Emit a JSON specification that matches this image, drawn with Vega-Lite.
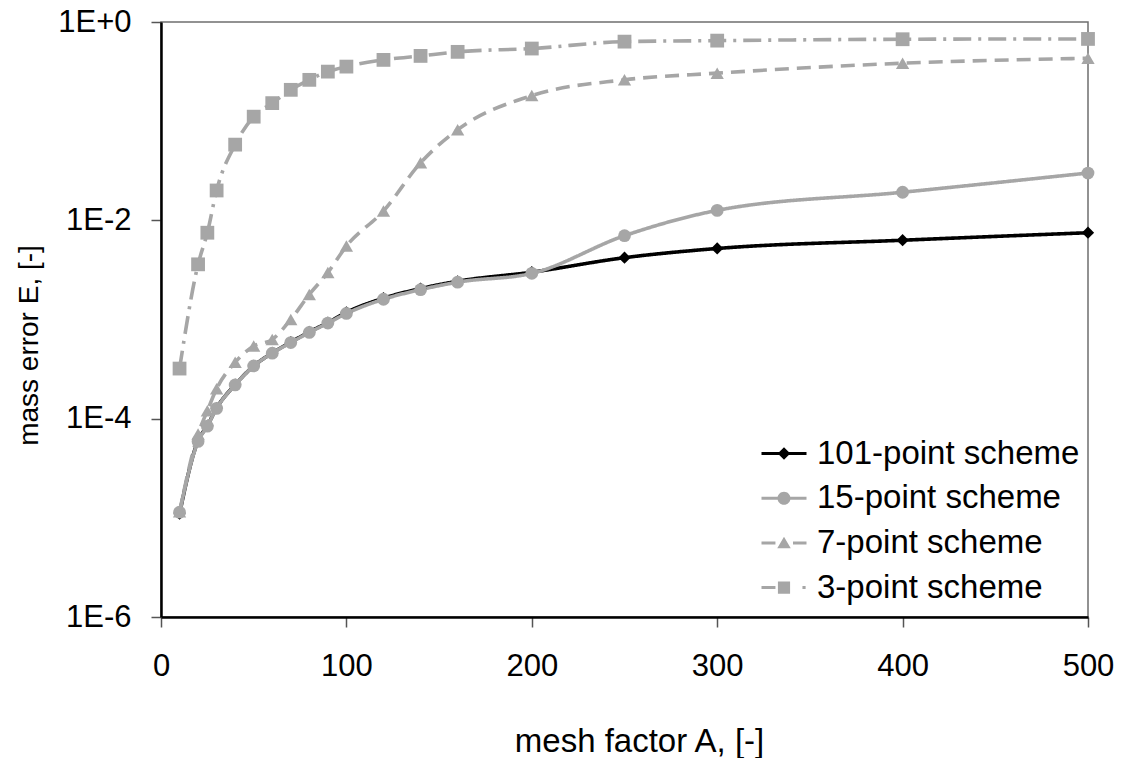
{
  "$schema": "https://vega.github.io/schema/vega-lite/v6.json",
  "width": 927,
  "height": 595,
  "autosize": {"type": "none"},
  "padding": {"left": 161, "top": 22, "right": 35, "bottom": 141},
  "background": "white",
  "data": {
    "values": [
      {"scheme": "101-point scheme", "A": 10, "E": 0.000011},
      {"scheme": "101-point scheme", "A": 20, "E": 0.00006},
      {"scheme": "101-point scheme", "A": 25, "E": 0.000085},
      {"scheme": "101-point scheme", "A": 30, "E": 0.000128},
      {"scheme": "101-point scheme", "A": 40, "E": 0.00022},
      {"scheme": "101-point scheme", "A": 50, "E": 0.00034},
      {"scheme": "101-point scheme", "A": 60, "E": 0.00046},
      {"scheme": "101-point scheme", "A": 70, "E": 0.00059},
      {"scheme": "101-point scheme", "A": 80, "E": 0.00075},
      {"scheme": "101-point scheme", "A": 90, "E": 0.00093},
      {"scheme": "101-point scheme", "A": 100, "E": 0.00118},
      {"scheme": "101-point scheme", "A": 120, "E": 0.00164},
      {"scheme": "101-point scheme", "A": 140, "E": 0.00205},
      {"scheme": "101-point scheme", "A": 160, "E": 0.00243},
      {"scheme": "101-point scheme", "A": 200, "E": 0.003},
      {"scheme": "101-point scheme", "A": 250, "E": 0.0042},
      {"scheme": "101-point scheme", "A": 300, "E": 0.0052},
      {"scheme": "101-point scheme", "A": 400, "E": 0.0063},
      {"scheme": "101-point scheme", "A": 500, "E": 0.0075},
      {"scheme": "15-point scheme", "A": 10, "E": 0.0000114},
      {"scheme": "15-point scheme", "A": 20, "E": 0.000059},
      {"scheme": "15-point scheme", "A": 25, "E": 0.000084},
      {"scheme": "15-point scheme", "A": 30, "E": 0.000127},
      {"scheme": "15-point scheme", "A": 40, "E": 0.000219},
      {"scheme": "15-point scheme", "A": 50, "E": 0.00034},
      {"scheme": "15-point scheme", "A": 60, "E": 0.000457},
      {"scheme": "15-point scheme", "A": 70, "E": 0.000585},
      {"scheme": "15-point scheme", "A": 80, "E": 0.00074},
      {"scheme": "15-point scheme", "A": 90, "E": 0.00092},
      {"scheme": "15-point scheme", "A": 100, "E": 0.00115},
      {"scheme": "15-point scheme", "A": 120, "E": 0.0016},
      {"scheme": "15-point scheme", "A": 140, "E": 0.002},
      {"scheme": "15-point scheme", "A": 160, "E": 0.00238},
      {"scheme": "15-point scheme", "A": 200, "E": 0.00292},
      {"scheme": "15-point scheme", "A": 250, "E": 0.007},
      {"scheme": "15-point scheme", "A": 300, "E": 0.0126},
      {"scheme": "15-point scheme", "A": 400, "E": 0.0192},
      {"scheme": "15-point scheme", "A": 500, "E": 0.03},
      {"scheme": "7-point scheme", "A": 10, "E": 0.0000115},
      {"scheme": "7-point scheme", "A": 20, "E": 0.00007},
      {"scheme": "7-point scheme", "A": 25, "E": 0.00012},
      {"scheme": "7-point scheme", "A": 30, "E": 0.0002},
      {"scheme": "7-point scheme", "A": 40, "E": 0.00037},
      {"scheme": "7-point scheme", "A": 50, "E": 0.00054},
      {"scheme": "7-point scheme", "A": 60, "E": 0.00063},
      {"scheme": "7-point scheme", "A": 70, "E": 0.001},
      {"scheme": "7-point scheme", "A": 80, "E": 0.00179},
      {"scheme": "7-point scheme", "A": 90, "E": 0.00297},
      {"scheme": "7-point scheme", "A": 100, "E": 0.0055},
      {"scheme": "7-point scheme", "A": 120, "E": 0.0124},
      {"scheme": "7-point scheme", "A": 140, "E": 0.038},
      {"scheme": "7-point scheme", "A": 160, "E": 0.082},
      {"scheme": "7-point scheme", "A": 200, "E": 0.181},
      {"scheme": "7-point scheme", "A": 250, "E": 0.261},
      {"scheme": "7-point scheme", "A": 300, "E": 0.305},
      {"scheme": "7-point scheme", "A": 400, "E": 0.384},
      {"scheme": "7-point scheme", "A": 500, "E": 0.431},
      {"scheme": "3-point scheme", "A": 10, "E": 0.00032},
      {"scheme": "3-point scheme", "A": 20, "E": 0.0036},
      {"scheme": "3-point scheme", "A": 25, "E": 0.0075},
      {"scheme": "3-point scheme", "A": 30, "E": 0.02},
      {"scheme": "3-point scheme", "A": 40, "E": 0.058},
      {"scheme": "3-point scheme", "A": 50, "E": 0.111},
      {"scheme": "3-point scheme", "A": 60, "E": 0.152},
      {"scheme": "3-point scheme", "A": 70, "E": 0.207},
      {"scheme": "3-point scheme", "A": 80, "E": 0.261},
      {"scheme": "3-point scheme", "A": 90, "E": 0.316},
      {"scheme": "3-point scheme", "A": 100, "E": 0.355},
      {"scheme": "3-point scheme", "A": 120, "E": 0.415},
      {"scheme": "3-point scheme", "A": 140, "E": 0.455},
      {"scheme": "3-point scheme", "A": 160, "E": 0.5},
      {"scheme": "3-point scheme", "A": 200, "E": 0.54},
      {"scheme": "3-point scheme", "A": 250, "E": 0.634},
      {"scheme": "3-point scheme", "A": 300, "E": 0.649},
      {"scheme": "3-point scheme", "A": 400, "E": 0.67},
      {"scheme": "3-point scheme", "A": 500, "E": 0.675}
    ]
  },
  "encoding": {
    "x": {
      "field": "A",
      "type": "quantitative",
      "scale": {"domain": [0, 500], "nice": false, "zero": true},
      "axis": {
        "title": "mesh factor A, [-]",
        "values": [0, 100, 200, 300, 400, 500],
        "format": "d",
        "labelPadding": 24,
        "labelFlush": false,
        "labelOverlap": false,
        "titleX": 478,
        "titleY": 134,
        "titleBaseline": "alphabetic",
        "titleFontSize": 33
      }
    },
    "y": {
      "field": "E",
      "type": "quantitative",
      "scale": {"type": "log", "domain": [0.000001, 1], "nice": false},
      "axis": {
        "title": "mass error E, [-]",
        "values": [0.000001, 0.0001, 0.01, 1],
        "labelExpr": "datum.value >= 1 ? '1E+0' : '1E' + round(log(datum.value) / LN10)",
        "labelPadding": 20,
        "labelFlush": false,
        "labelOverlap": false,
        "titleX": -124,
        "titleY": 323,
        "titleAngle": 270,
        "titleBaseline": "alphabetic",
        "titleAlign": "center",
        "titleFontSize": 28
      }
    }
  },
  "layer": [
    {
      "mark": {"type": "line", "interpolate": "monotone", "strokeWidth": 3.6},
      "encoding": {
        "color": {
          "field": "scheme",
          "type": "nominal",
          "scale": {
            "domain": ["101-point scheme", "15-point scheme", "7-point scheme", "3-point scheme"],
            "range": ["#000000", "#A6A6A6", "#A6A6A6", "#A6A6A6"]
          },
          "legend": null
        },
        "strokeDash": {
          "field": "scheme",
          "type": "nominal",
          "scale": {
            "domain": ["101-point scheme", "15-point scheme", "7-point scheme", "3-point scheme"],
            "range": [[1, 0], [1, 0], [14, 8], [18, 7, 3, 7]]
          },
          "legend": null
        }
      }
    },
    {
      "mark": {"type": "point", "filled": true, "opacity": 1, "strokeWidth": 0},
      "encoding": {
        "color": {
          "field": "scheme",
          "type": "nominal",
          "scale": {
            "domain": ["101-point scheme", "15-point scheme", "7-point scheme", "3-point scheme"],
            "range": ["#000000", "#A6A6A6", "#A6A6A6", "#A6A6A6"]
          },
          "legend": null
        },
        "shape": {
          "field": "scheme",
          "type": "nominal",
          "scale": {
            "domain": ["101-point scheme", "15-point scheme", "7-point scheme", "3-point scheme"],
            "range": ["diamond", "circle", "triangle-up", "square"]
          },
          "legend": null
        },
        "size": {
          "field": "scheme",
          "type": "ordinal",
          "scale": {
            "domain": ["101-point scheme", "15-point scheme", "7-point scheme", "3-point scheme"],
            "range": [150, 190, 220, 200]
          },
          "legend": null
        }
      }
    },
    {
      "transform": [{"filter": "datum.scheme === '101-point scheme'"}],
      "mark": {"type": "point", "filled": true, "opacity": 0, "color": "#000000"},
      "encoding": {
        "shape": {
          "field": "scheme",
          "type": "nominal",
          "scale": {
            "domain": ["101-point scheme"],
            "range": ["M-1,-0.067H1V0.067H-1ZM0,-0.28L0.28,0L0,0.28L-0.28,0Z"]
          },
          "legend": {
            "title": null,
            "orient": "none",
            "direction": "vertical",
            "legendX": 600.5,
            "legendY": 409,
            "padding": 0,
            "rowPadding": 4.7,
            "symbolSize": 2025,
            "symbolStrokeWidth": 0,
            "symbolOpacity": 1,
            "labelFontSize": 33,
            "labelFont": "Liberation Sans",
            "labelColor": "#000000",
            "labelOffset": 10.5,
            "labelLimit": 400
          }
        }
      }
    },
    {
      "transform": [{"filter": "datum.scheme !== '101-point scheme'"}],
      "mark": {"type": "point", "filled": true, "opacity": 0, "color": "#A6A6A6"},
      "encoding": {
        "shape": {
          "field": "scheme",
          "type": "nominal",
          "scale": {
            "domain": ["15-point scheme", "7-point scheme", "3-point scheme"],
            "range": [
              "M-1,-0.067H1V0.067H-1ZM0,-0.29A0.29,0.29,0,1,1,0,0.29A0.29,0.29,0,1,1,0,-0.29Z",
              "M-1,-0.067H-0.38V0.067H-1ZM0.4,-0.067H1V0.067H0.4ZM0,-0.27L0.3,0.24L-0.3,0.24Z",
              "M-1,-0.067H-0.38V0.067H-1ZM-0.27,-0.27H0.27V0.27H-0.27ZM0.82,-0.067H0.96V0.067H0.82Z"
            ]
          },
          "legend": {
            "title": null,
            "orient": "none",
            "direction": "vertical",
            "legendX": 600.5,
            "legendY": 453.7,
            "padding": 0,
            "rowPadding": 4.7,
            "symbolSize": 2025,
            "symbolStrokeWidth": 0,
            "symbolOpacity": 1,
            "labelFontSize": 33,
            "labelFont": "Liberation Sans",
            "labelColor": "#000000",
            "labelOffset": 10.5,
            "labelLimit": 400
          }
        }
      }
    }
  ],
  "resolve": {"scale": {"shape": "independent"}},
  "config": {
    "font": "Liberation Sans",
    "view": {"stroke": "#6f6f6f", "strokeWidth": 1.5},
    "axis": {
      "grid": false,
      "domainColor": "#000000",
      "domainWidth": 2.5,
      "tickColor": "#555555",
      "tickWidth": 1.5,
      "tickSize": 10,
      "labelFont": "Liberation Sans",
      "labelFontSize": 31,
      "labelColor": "#000000",
      "titleFont": "Liberation Sans",
      "titleFontWeight": "normal",
      "titleColor": "#000000"
    }
  }
}
